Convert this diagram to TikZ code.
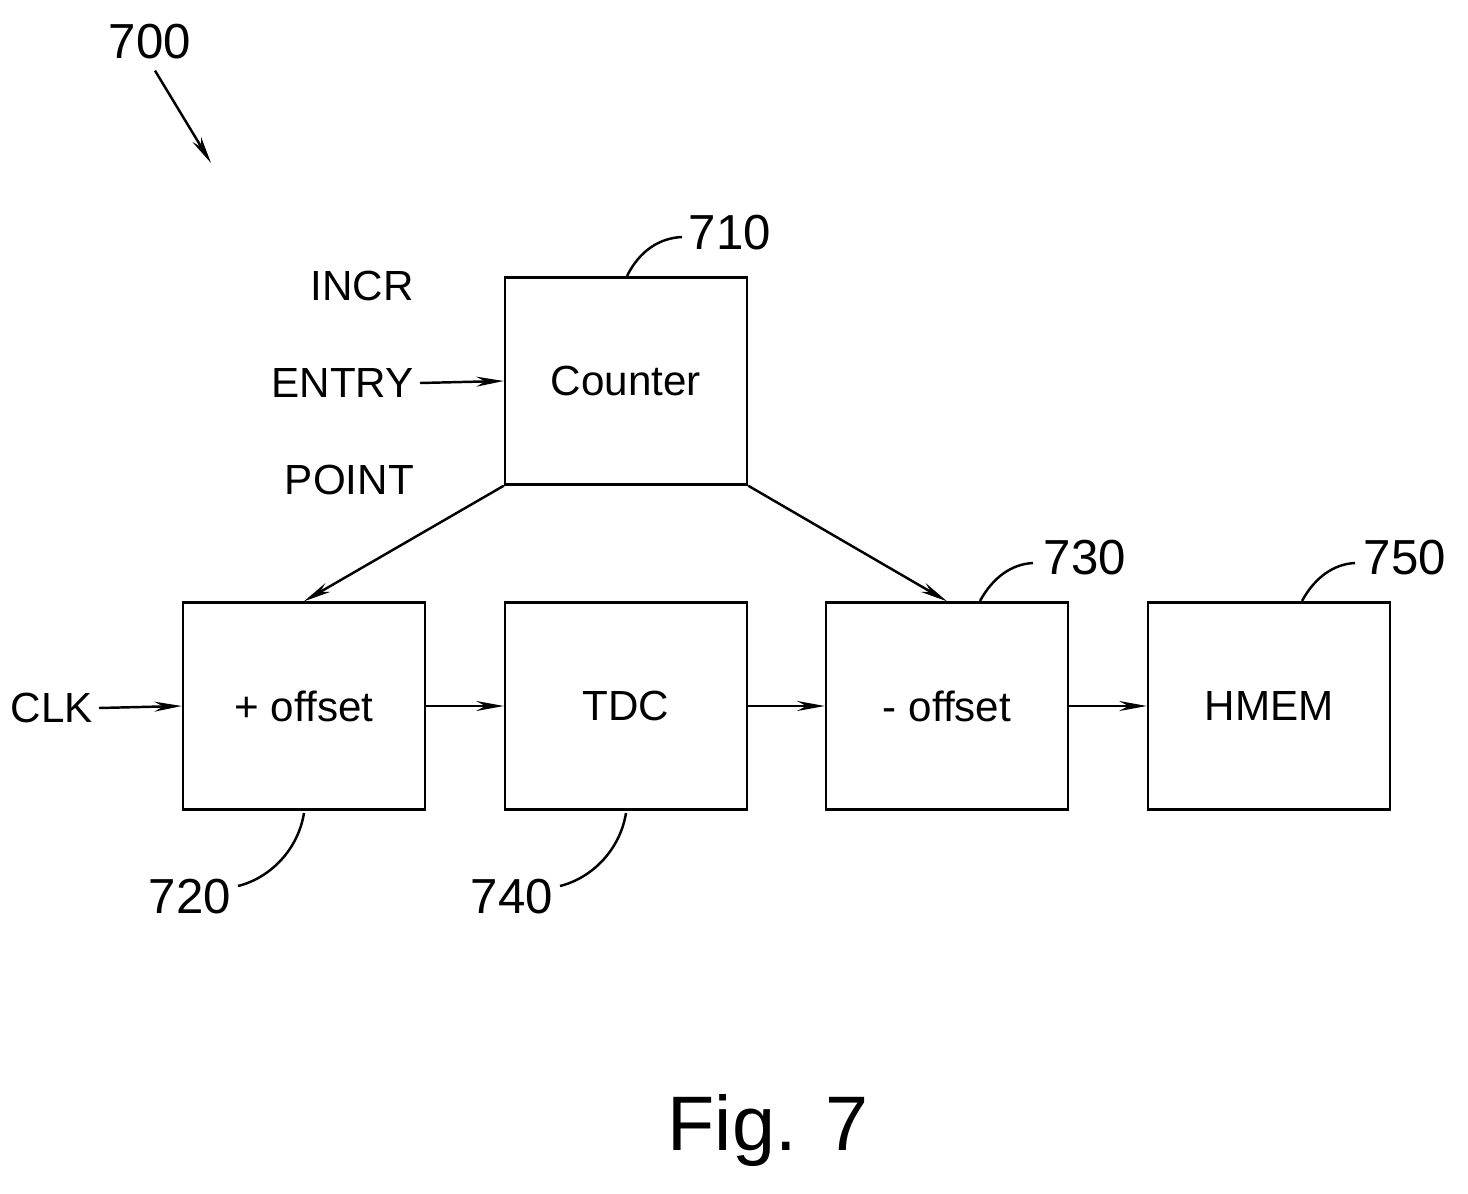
\documentclass[tikz,border=0pt]{standalone}
\usepackage{fontspec}
\setmainfont{Liberation Sans}
\usetikzlibrary{arrows.meta}

\begin{document}
\begin{tikzpicture}[
                        x=0.02cm, y=-0.02cm,
                        block/.style={rectangle, draw, line width=1.4pt, minimum width=4.84cm, minimum height=4.14cm, font=\fontsize{24}{28}\selectfont},
                        lbl/.style={font=\fontsize{28}{32}\selectfont},
                        conn/.style={line width=1.4pt, -{Stealth[length=0.55cm, width=0.2cm]}},
                        lead/.style={line width=1.4pt}
                    ]
                    \useasboundingbox (0,0) rectangle (1468,1194);
                    % Blocks
                    \node [block] (counter) at (626,381) {Counter};
                    \node [block] (plusoff) at (304,706) {+ offset};
                    \node [block] (tdc) at (626,706) {TDC};
                    \node [block] (minusoff) at (947,706) {- offset};
                    \node [block] (hmem) at (1269,706) {HMEM};

                    % Inputs
                    \node [anchor=east, align=right, font=\fontsize{24}{55}\selectfont] (incr) at (420,383) {INCR\\ENTRY\\POINT};
                    \node [anchor=east, font=\fontsize{24}{28}\selectfont] (clk) at (99,708) {CLK};

                    % Connections
                    \draw [conn] (incr.east) -- (counter.west);
                    \draw [conn] (clk.east) -- (plusoff.west);
                    \draw [conn] (counter.south west) -- (plusoff.north);
                    \draw [conn] (counter.south east) -- (minusoff.north);
                    \draw [conn] (plusoff) -- (tdc);
                    \draw [conn] (tdc) -- (minusoff);
                    \draw [conn] (minusoff) -- (hmem);

                    % Reference numerals
                    \node [lbl] (n700) at (150,42) {700};
                    \coordinate (p700) at (211,163);
                    \draw [conn] (n700.south) ++(5,5) -- (p700);
                    \node [lbl] (n710) at (730,233) {710};
                    \draw [lead] (627,276) .. controls (640,250) and (660,238) .. (682,237);
                    \node [lbl] (n730) at (1085,558) {730};
                    \draw [lead] (980,601) .. controls (993,577) and (1012,564) .. (1033,563);
                    \node [lbl] (n750) at (1405,558) {750};
                    \draw [lead] (1302,601) .. controls (1315,577) and (1334,564) .. (1355,563);
                    \node [lbl] (n720) at (190,897) {720};
                    \draw [lead] (304,813) .. controls (298,850) and (270,878) .. (238,886);
                    \node [lbl] (n740) at (512,897) {740};
                    \draw [lead] (626,813) .. controls (620,850) and (592,878) .. (560,886);

                    % Caption
                    \node [font=\fontsize{44}{50}\selectfont] (fig) at (768,1130) {Fig. 7};
                \end{tikzpicture}
\end{document}
